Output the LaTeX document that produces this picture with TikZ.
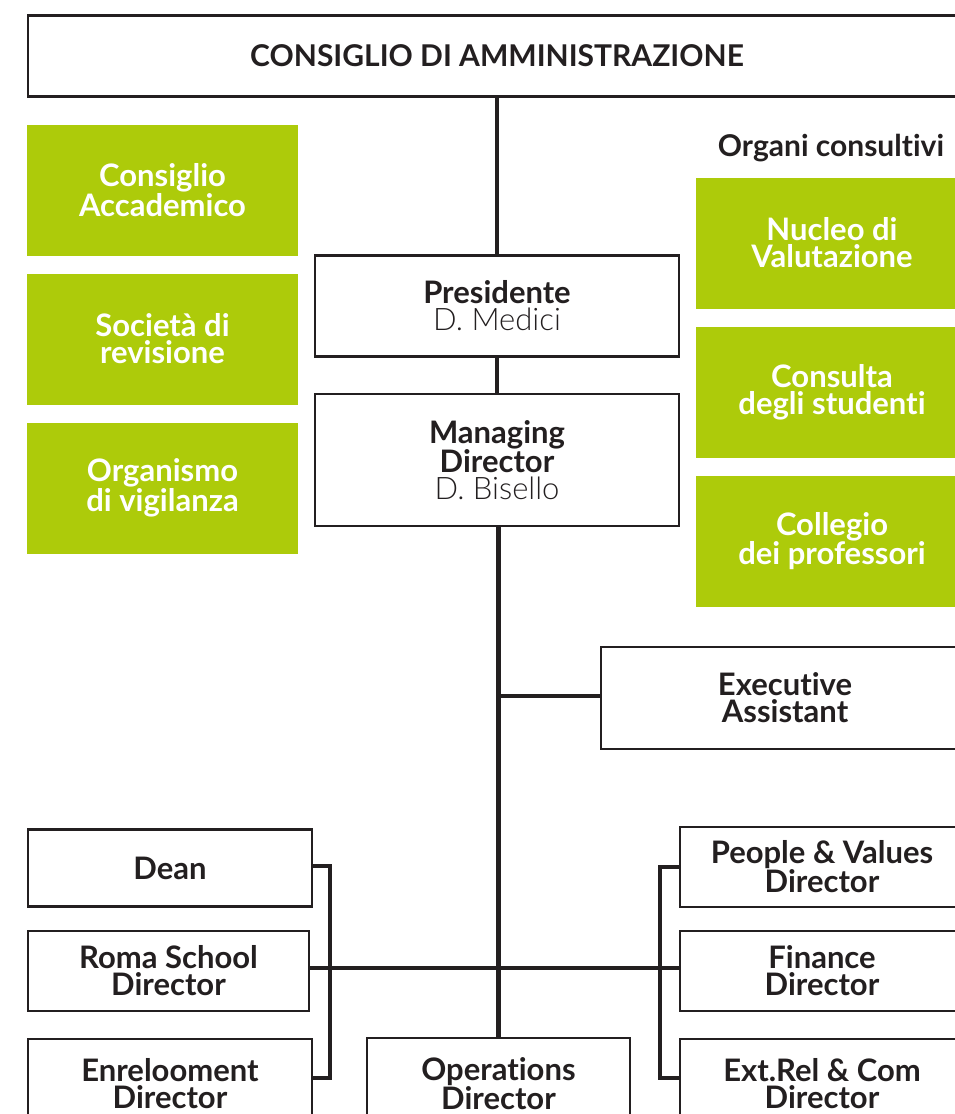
\documentclass[tikz,border=0pt]{standalone}
\usepackage{fontspec}
\setmainfont{Lato}[Ligatures=NoCommon]
\newfontfamily\lightfont{Lato Light}[Ligatures=NoCommon]
\definecolor{orggreen}{HTML}{ADCB0A}
\definecolor{orgink}{HTML}{231F20}

\begin{document}
\begin{tikzpicture}[x=1pt,y=-1pt,
    box/.style={draw=orgink, line width=2.2pt, fill=white, inner sep=0pt, outer sep=0pt,
        align=center, text=orgink, font=\fontsize{31}{27}\selectfont\bfseries},
    greenbox/.style={fill=orggreen, inner sep=0pt, outer sep=0pt, align=center, text=white,
        minimum width=271pt, minimum height=131pt, font=\fontsize{31}{27}\selectfont\bfseries},
    link/.style={draw=orgink, line width=4.5pt}]
    \useasboundingbox (0,0) rectangle (954,1114);

    % board
    \node[box, minimum width=938pt, minimum height=81pt, font=\fontsize{30}{27}\selectfont\bfseries]
        (board) at (497,56) {CONSIGLIO DI AMMINISTRAZIONE};

    % left column
    \node[greenbox] (acc) at (162.5,190) {Consiglio\\Accademico};
    \node[greenbox] (rev) at (162.5,339) {Società di\\revisione};
    \node[greenbox] (vig) at (162.5,488) {Organismo\\di vigilanza};

    % centre
    \node[box, minimum width=364pt, minimum height=101pt] (pres) at (497,306)
        {Presidente\\{\lightfont\mdseries D. Medici}};
    \node[box, minimum width=364pt, minimum height=132pt] (md) at (497,460)
        {Managing\\Director\\{\lightfont\mdseries D. Bisello}};

    % right column
    \node[text=orgink, font=\fontsize{30}{27}\selectfont\bfseries] (cons) at (831,148) {Organi consultivi};
    \node[greenbox, minimum width=272pt] (nuc) at (832,243) {Nucleo di\\Valutazione};
    \node[greenbox, minimum width=272pt] (stud) at (832,392) {Consulta\\degli studenti};
    \node[greenbox, minimum width=272pt] (coll) at (832,541) {Collegio\\dei professori};

    \node[box, minimum width=368pt, minimum height=102pt] (exec) at (785,698) {Executive\\Assistant};

    % directors, left
    \node[box, minimum width=284pt, minimum height=77pt] (dean) at (170,868) {Dean};
    \node[box, minimum width=281pt, minimum height=80pt] (roma) at (168.5,971) {Roma School\\Director};
    \node[box, minimum width=284pt, minimum height=90pt] (enr) at (170,1084) {Enrelooment\\Director};
    % directors, middle
    \node[box, minimum width=263pt, minimum height=92pt] (ops) at (498.5,1084) {Operations\\Director};
    % directors, right
    \node[box, minimum width=284pt, minimum height=80pt] (peop) at (822,867) {People \& Values\\Director};
    \node[box, minimum width=284pt, minimum height=80pt] (fin) at (822,971) {Finance\\Director};
    \node[box, minimum width=284pt, minimum height=90pt] (ext) at (822,1084) {Ext.Rel \& Com\\Director};

    % |
    \draw[link] (board.south -| pres.north) -- (pres.north);
    \draw[link] (pres.south) -- (md.north);
    \draw[link] (md.south -| ops.north) -- (ops.north);
    \draw[link] (md.south |- 0,696) -- (exec.west |- 0,696);
    % --
    \draw[link] (roma.east |- 0,968) -- (fin.west |- 0,968);
    % brackets
    \coordinate (brl) at (330,968);
    \coordinate (brr) at (660,968);
    \draw[link] (dean.east |- 0,866) -| (brl) |- (enr.east |- 0,1078);
    \draw[link] (peop.west |- 0,867) -| (brr) |- (ext.west |- 0,1078);
\end{tikzpicture}
\end{document}
